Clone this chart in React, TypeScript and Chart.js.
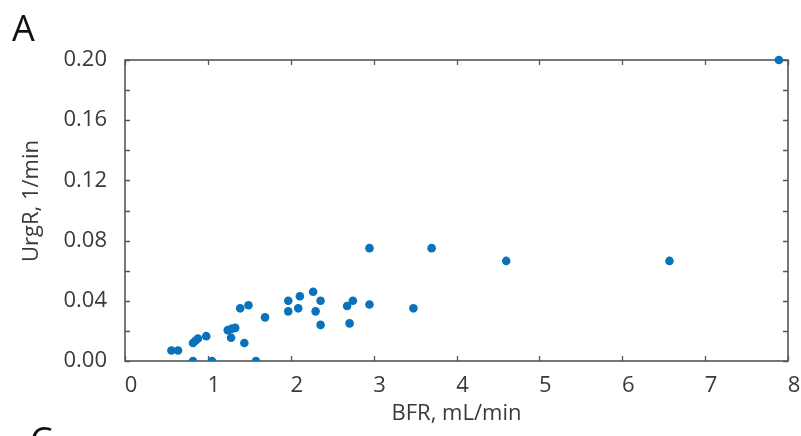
import React, { useEffect, useRef } from "react";
import { Chart, registerables } from "chart.js";

Chart.register(...registerables);

// Data (BFR in mL/min, UrgR in 1/min)
const bfr: number[] = [
  0.56, 0.64, 0.82, 0.85, 0.88, 0.98, 0.82, 1.05, 1.24, 1.29, 1.33, 1.28,
  1.39, 1.49, 1.44, 1.69, 1.58, 1.97, 2.11, 2.27, 2.36, 1.97, 2.09, 2.30,
  2.36, 2.68, 2.75, 2.95, 2.71, 3.48, 2.95, 3.70, 4.60, 6.57, 7.89,
];
const urgr: number[] = [
  0.007, 0.007, 0.012, 0.0135, 0.015, 0.0165, 0.0, 0.0, 0.0205, 0.0215, 0.022, 0.0155,
  0.035, 0.037, 0.012, 0.029, 0.0, 0.040, 0.043, 0.046, 0.040, 0.033, 0.035, 0.033,
  0.024, 0.0365, 0.040, 0.0375, 0.025, 0.035, 0.075, 0.075, 0.0665, 0.0665, 0.20,
];
const xTickValues: number[] = [0, 1, 2, 3, 4, 5, 6, 7, 8];
const yTickValues: number[] = [0, 0.02, 0.04, 0.06, 0.08, 0.1, 0.12, 0.14, 0.16, 0.18, 0.2];
const xTitle = "BFR, mL/min";
const yTitle = "UrgR, 1/min";
const panelLetter = "A";
const nextPanelLetter = "C";

const FONT = "'Open Sans', sans-serif";
const TEXT = "#3a3a3a";
const FRAME = "#555555";

const framePlugin = {
  id: "frameTicks",
  beforeDatasetsDraw(chart: any) {
    const { ctx, chartArea: a, scales } = chart;
    const xs = scales.x;
    const ys = scales.y;
    ctx.save();
    ctx.strokeStyle = FRAME;
    ctx.lineWidth = 1.6;
    ctx.strokeRect(a.left, a.top, a.right - a.left, a.bottom - a.top);
    ctx.lineWidth = 1.3;
    const tl = 5;
    ctx.beginPath();
    yTickValues.forEach((v) => {
      const y = Math.round(ys.getPixelForValue(v)) + 0.5;
      ctx.moveTo(a.left, y);
      ctx.lineTo(a.left + tl, y);
      ctx.moveTo(a.right, y);
      ctx.lineTo(a.right - tl, y);
    });
    xTickValues.forEach((v) => {
      const x = Math.round(xs.getPixelForValue(v)) + 0.5;
      ctx.moveTo(x, a.bottom);
      ctx.lineTo(x, a.bottom - tl);
      ctx.moveTo(x, a.top);
      ctx.lineTo(x, a.top + tl);
    });
    ctx.stroke();
    ctx.restore();
  },
  afterDraw(chart: any) {
    const { ctx } = chart;
    ctx.save();
    ctx.fillStyle = TEXT;
    ctx.font = `22px ${FONT}`;
    ctx.textAlign = "center";
    ctx.textBaseline = "middle";
    ctx.translate(32, 201);
    ctx.rotate(-Math.PI / 2);
    ctx.fillText(yTitle, 0, 0);
    ctx.restore();

    ctx.save();
    ctx.fillStyle = "#111111";
    ctx.font = `36px ${FONT}`;
    ctx.textAlign = "left";
    ctx.textBaseline = "alphabetic";
    ctx.fillText(panelLetter, 12, 41);
    ctx.fillText(nextPanelLetter, 30, 453);
    ctx.restore();
  },
};

export default function App() {
  const ref = useRef<HTMLCanvasElement | null>(null);
  useEffect(() => {
    if (!ref.current) return;
    const points = bfr.map((x, i) => ({ x, y: urgr[i] }));
    const chart = new Chart(ref.current, {
      type: "scatter",
      data: {
        datasets: [
          {
            data: points,
            backgroundColor: "#0a72ba",
            borderColor: "#0a72ba",
            pointRadius: 4.3,
            pointStyle: "circle",
            borderWidth: 0,
            clip: { left: false, top: false, right: false, bottom: 0 } as any,
          },
        ],
      },
      options: {
        animation: false,
        responsive: true,
        maintainAspectRatio: false,
        layout: { padding: { top: 60, right: 13, left: 0, bottom: 0 } },
        plugins: {
          legend: { display: false },
          tooltip: { enabled: false },
        },
        scales: {
          x: {
            type: "linear",
            min: 0,
            max: 8,
            afterFit: (s: any) => {
              s.height = 75;
              s.paddingLeft = 0;
              s.paddingRight = 0;
            },
            grid: { display: false, drawTicks: false },
            border: { display: false },
            ticks: {
              stepSize: 1,
              padding: 12,
              labelOffset: 6,
              color: TEXT,
              font: { family: FONT, size: 22 },
            },
            title: {
              display: true,
              text: xTitle,
              color: TEXT,
              font: { family: FONT, size: 22 },
              padding: { top: 0, bottom: 9 },
            },
          },
          y: {
            type: "linear",
            min: 0,
            max: 0.2,
            afterFit: (s: any) => {
              s.width = 125;
              s.paddingTop = 0;
              s.paddingBottom = 0;
            },
            grid: { display: false, drawTicks: false },
            border: { display: false },
            ticks: {
              stepSize: 0.04,
              padding: 18,
              color: TEXT,
              font: { family: FONT, size: 22 },
              callback: (v: any) => Number(v).toFixed(2),
            },
            title: { display: false },
          },
        },
      },
      plugins: [framePlugin],
    });
    return () => chart.destroy();
  }, []);
  return (
    <div style={{ position: "absolute", left: 0, top: 0, width: 801, height: 436, background: "#fff" }}>
      <canvas ref={ref} />
    </div>
  );
}
